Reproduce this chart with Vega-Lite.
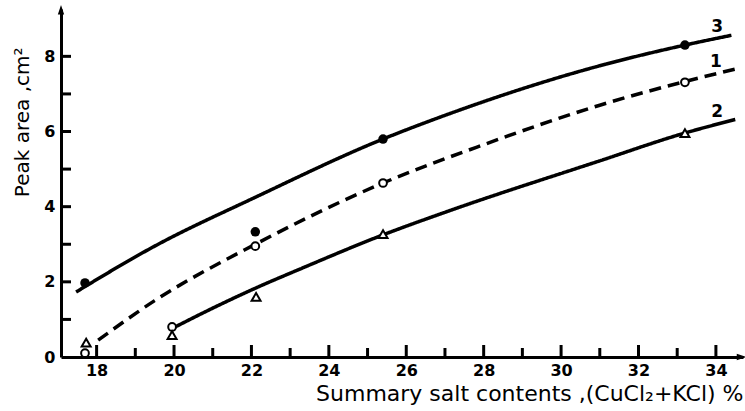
{
  "$schema": "https://vega.github.io/schema/vega-lite/v6.json",
  "width": 682,
  "height": 348,
  "autosize": {"type": "none"},
  "padding": {"left": 61, "top": 9, "right": 2, "bottom": 54},
  "background": "white",
  "config": {"view": {"stroke": null}, "font": "DejaVu Sans"},
  "datasets": {
    "curves": [
      {"curve": "3", "x": 17.47, "y": 1.73},
      {"curve": "3", "x": 19.5, "y": 2.95},
      {"curve": "3", "x": 22.1, "y": 4.25},
      {"curve": "3", "x": 25.4, "y": 5.8},
      {"curve": "3", "x": 27.0, "y": 6.43},
      {"curve": "3", "x": 31.0, "y": 7.75},
      {"curve": "3", "x": 33.2, "y": 8.3},
      {"curve": "3", "x": 34.4, "y": 8.56},
      {"curve": "1", "x": 18.04, "y": 0.45},
      {"curve": "1", "x": 19.5, "y": 1.5},
      {"curve": "1", "x": 22.1, "y": 3.0},
      {"curve": "1", "x": 25.4, "y": 4.63},
      {"curve": "1", "x": 28.0, "y": 5.65},
      {"curve": "1", "x": 31.0, "y": 6.7},
      {"curve": "1", "x": 33.2, "y": 7.33},
      {"curve": "1", "x": 34.5, "y": 7.66},
      {"curve": "2", "x": 20.03, "y": 0.8},
      {"curve": "2", "x": 21.0, "y": 1.3},
      {"curve": "2", "x": 22.1, "y": 1.83},
      {"curve": "2", "x": 23.3, "y": 2.36},
      {"curve": "2", "x": 25.4, "y": 3.25},
      {"curve": "2", "x": 27.0, "y": 3.85},
      {"curve": "2", "x": 31.0, "y": 5.22},
      {"curve": "2", "x": 33.2, "y": 5.96},
      {"curve": "2", "x": 34.5, "y": 6.32}
    ],
    "pts3": [
      {"x": 17.7, "y": 1.97},
      {"x": 22.1, "y": 3.33},
      {"x": 25.4, "y": 5.8},
      {"x": 33.2, "y": 8.3}
    ],
    "pts1": [
      {"x": 17.7, "y": 0.1},
      {"x": 19.95, "y": 0.8},
      {"x": 22.1, "y": 2.95},
      {"x": 25.4, "y": 4.63},
      {"x": 33.2, "y": 7.31}
    ],
    "pts2": [
      {"x": 17.73, "y": 0.38},
      {"x": 19.95, "y": 0.58},
      {"x": 22.12, "y": 1.6},
      {"x": 25.4, "y": 3.27},
      {"x": 33.2, "y": 5.96}
    ],
    "labels": [
      {"text": "3", "x": 34.03, "y": 8.78},
      {"text": "1", "x": 34.0, "y": 7.85},
      {"text": "2", "x": 34.03, "y": 6.52}
    ],
    "xMajor": [{"v": 18}, {"v": 20}, {"v": 22}, {"v": 24}, {"v": 26}, {"v": 28}, {"v": 30}, {"v": 32}, {"v": 34}],
    "xMinor": [{"v": 19}, {"v": 21}, {"v": 23}, {"v": 25}, {"v": 27}, {"v": 29}, {"v": 31}, {"v": 33}],
    "yTicks": [{"v": 1}, {"v": 2}, {"v": 3}, {"v": 4}, {"v": 5}, {"v": 6}, {"v": 7}, {"v": 8}],
    "arrowUp": [{"x": 17.08, "y": 9.2}],
    "arrowRight": [{"x": 34.62, "y": 0}]
  },
  "layer": [
    {
      "data": {"name": "curves"},
      "mark": {"type": "line", "interpolate": "monotone", "strokeWidth": 3.5, "color": "black", "strokeCap": "butt"},
      "encoding": {
        "x": {
          "field": "x", "type": "quantitative",
          "scale": {"domain": [17.08, 34.7], "nice": false, "zero": false},
          "axis": {
            "orient": "bottom",
            "values": [18, 20, 22, 24, 26, 28, 30, 32, 34],
            "ticks": false,
            "domainWidth": 3, "domainColor": "black",
            "labelFontSize": 16, "labelFontWeight": "bold", "labelColor": "black", "labelPadding": 5,
            "grid": false,
            "title": "Summary salt contents ,(CuCl₂+KCl) %",
            "titleFontSize": 22, "titleFontWeight": "normal", "titleColor": "black",
            "titleX": 682, "titleY": 36, "titleAlign": "right", "titleBaseline": "middle", "titleAnchor": "end"
          }
        },
        "y": {
          "field": "y", "type": "quantitative",
          "scale": {"domain": [0, 9.26], "nice": false},
          "axis": {
            "orient": "left",
            "values": [0, 2, 4, 6, 8],
            "ticks": false,
            "domainWidth": 3, "domainColor": "black",
            "labelFontSize": 16, "labelFontWeight": "bold", "labelColor": "black", "labelPadding": 6,
            "grid": false,
            "title": "Peak area ,cm²",
            "titleFontSize": 20, "titleFontWeight": "normal", "titleColor": "black",
            "titleAngle": -90, "titleAlign": "right", "titleBaseline": "middle",
            "titleX": -39, "titleY": 38
          }
        },
        "detail": {"field": "curve"},
        "strokeDash": {
          "field": "curve", "type": "nominal",
          "scale": {"domain": ["1", "2", "3"], "range": [[12, 7], [1, 0], [1, 0]]},
          "legend": null
        }
      }
    },
    {
      "data": {"name": "xMajor"},
      "mark": {"type": "rule", "strokeWidth": 3, "color": "black", "opacity": 1, "y2Offset": -12},
      "encoding": {"x": {"field": "v", "type": "quantitative"}, "y": {"datum": 0, "type": "quantitative"}, "y2": {"datum": 0}}
    },
    {
      "data": {"name": "xMinor"},
      "mark": {"type": "rule", "strokeWidth": 3, "color": "black", "opacity": 1, "y2Offset": -9},
      "encoding": {"x": {"field": "v", "type": "quantitative"}, "y": {"datum": 0, "type": "quantitative"}, "y2": {"datum": 0}}
    },
    {
      "data": {"name": "yTicks"},
      "mark": {"type": "rule", "strokeWidth": 3, "color": "black", "opacity": 1, "x2Offset": 10},
      "encoding": {"y": {"field": "v", "type": "quantitative"}, "x": {"datum": 17.08, "type": "quantitative"}, "x2": {"datum": 17.08}}
    },
    {
      "data": {"name": "pts3"},
      "mark": {"type": "point", "shape": "circle", "filled": true, "color": "black", "size": 90, "opacity": 1},
      "encoding": {"x": {"field": "x", "type": "quantitative"}, "y": {"field": "y", "type": "quantitative"}}
    },
    {
      "data": {"name": "pts1"},
      "mark": {"type": "point", "shape": "circle", "fill": "white", "stroke": "black", "strokeWidth": 2, "size": 60, "opacity": 1, "fillOpacity": 1},
      "encoding": {"x": {"field": "x", "type": "quantitative"}, "y": {"field": "y", "type": "quantitative"}}
    },
    {
      "data": {"name": "pts2"},
      "mark": {"type": "point", "shape": "triangle-up", "fill": "white", "stroke": "black", "strokeWidth": 2, "size": 80, "opacity": 1, "fillOpacity": 1},
      "encoding": {"x": {"field": "x", "type": "quantitative"}, "y": {"field": "y", "type": "quantitative"}}
    },
    {
      "data": {"name": "labels"},
      "mark": {"type": "text", "fontSize": 17, "fontWeight": "bold", "color": "black", "align": "center", "baseline": "middle"},
      "encoding": {"x": {"field": "x", "type": "quantitative"}, "y": {"field": "y", "type": "quantitative"}, "text": {"field": "text"}}
    },
    {
      "data": {"name": "arrowUp"},
      "mark": {"type": "point", "shape": "M-0.5,0.5L0,-1L0.5,0.5Z", "filled": true, "color": "black", "size": 160, "opacity": 1},
      "encoding": {"x": {"field": "x", "type": "quantitative"}, "y": {"field": "y", "type": "quantitative"}}
    },
    {
      "data": {"name": "arrowRight"},
      "mark": {"type": "point", "shape": "M-0.5,-0.5L1,0L-0.5,0.5Z", "filled": true, "color": "black", "size": 160, "opacity": 1},
      "encoding": {"x": {"field": "x", "type": "quantitative"}, "y": {"field": "y", "type": "quantitative"}}
    }
  ]
}
